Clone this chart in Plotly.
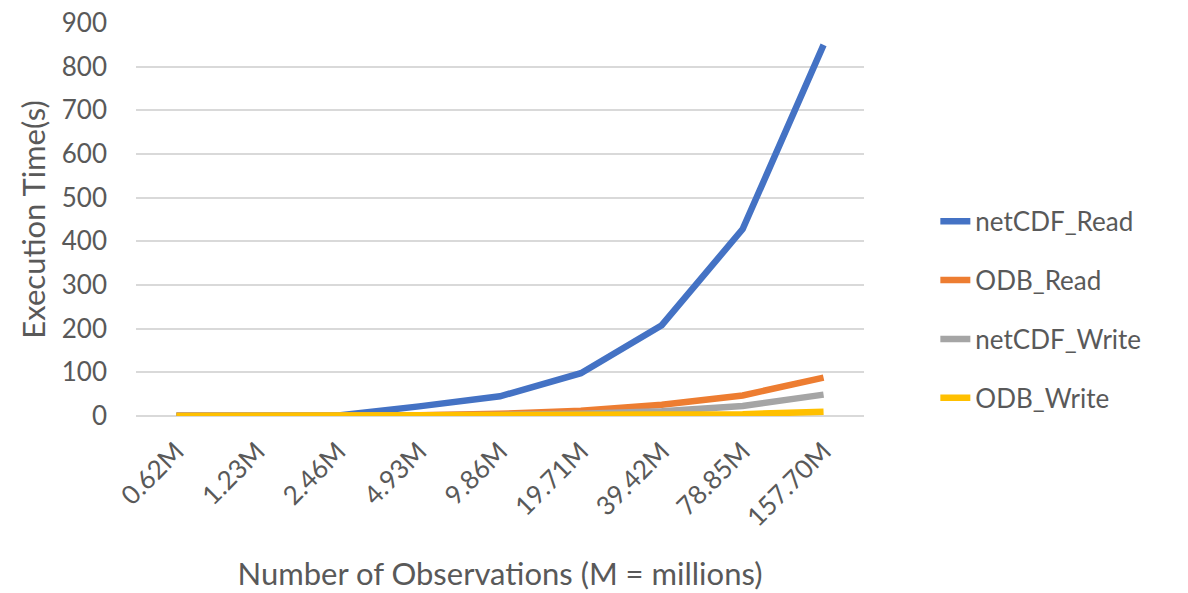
import plotly.graph_objects as go

categories = ["0.62M", "1.23M", "2.46M", "4.93M", "9.86M", "19.71M", "39.42M", "78.85M", "157.70M"]
netcdf_read = [0.5, 0.5, 1, 22, 45, 98, 208, 428, 850]
odb_read = [0.3, 0.5, 1, 2, 5, 12, 26, 47, 88]
netcdf_write = [0.2, 0.3, 0.5, 1, 2.5, 5, 11, 23, 49]
odb_write = [0.1, 0.2, 0.3, 0.6, 1, 1.5, 2.5, 4, 10]

series = [
    ("netCDF_Read", netcdf_read, "#4472C4"),
    ("ODB_Read", odb_read, "#ED7D31"),
    ("netCDF_Write", netcdf_write, "#A5A5A5"),
    ("ODB_Write", odb_write, "#FFC000"),
]

FONT = "Lato"
TXT = "#595959"

fig = go.Figure()
for name, vals, color in series:
    fig.add_trace(go.Scatter(
        x=categories, y=vals, name=name, mode="lines",
        line=dict(color=color, width=6.5, shape="linear"),
        legendgroup=name,
    ))

fig.update_layout(
    width=1188, height=593,
    margin=dict(l=136, r=324, t=23, b=177, autoexpand=False),
    paper_bgcolor="white", plot_bgcolor="white",
    font=dict(family=FONT, color=TXT, size=24),
    showlegend=True,
    legend=dict(
        x=1.098, xanchor="left", y=0.27, yanchor="middle",
        font=dict(family=FONT, size=26, color=TXT),
        tracegroupgap=22, bgcolor="rgba(0,0,0,0)",
    ),
    xaxis=dict(
        type="category", tickangle=-45, showgrid=False, zeroline=False,
        showline=False, ticks="", tickfont=dict(size=26, color=TXT),
        ticklabelstandoff=14, automargin=False,
        title=dict(text="Number of Observations (M = millions)",
                   font=dict(size=31, color=TXT), standoff=32),
        range=[-0.5, 8.5],
    ),
    yaxis=dict(
        range=[0, 900], dtick=100, showgrid=True, gridcolor="#D9D9D9",
        gridwidth=1.5, zeroline=True, zerolinecolor="#D9D9D9", zerolinewidth=1.5,
        showline=False, ticks="", tickfont=dict(size=26, color=TXT),
        ticklabelstandoff=28, automargin=False,
        title=dict(text="Execution Time(s)", font=dict(size=31, color=TXT), standoff=6),
    ),
)

fig.write_html("out.html")
